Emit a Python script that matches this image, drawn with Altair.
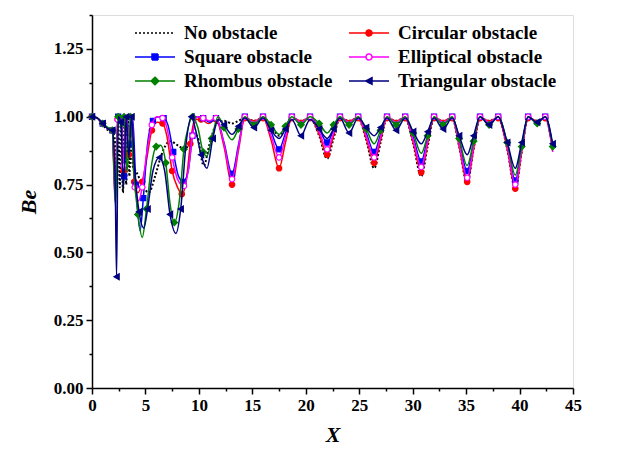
import altair as alt
import pandas as pd

# Series and styling
series_names = ["No obstacle", "Circular obstacle", "Square obstacle",
                "Elliptical obstacle", "Rhombus obstacle", "Triangular obstacle"]
series_colors = ["#000000", "#ff0000", "#0000ff", "#ff00ff", "#008000", "#000080"]

# Shared abscissae of the periodic part of every profile (X >= 12.35)
x_tail = [12.35, 13.1, 13.7, 14.3, 15.15, 16.0,
          16.75, 17.5, 18.1, 18.7, 19.55, 20.4,
          21.25, 22.0, 22.6, 23.2, 24.05, 24.9,
          25.65, 26.4, 27.0, 27.6, 28.45, 29.3,
          30.05, 30.8, 31.4, 32.0, 32.85, 33.7,
          34.35, 35.1, 35.7, 36.3, 37.15, 38.0,
          38.85, 39.6, 40.2, 40.8, 41.65, 42.4,
          43.1]

# No obstacle
x_none = [0, 0.5, 1.0, 1.5, 1.9, 2.1, 2.3, 2.45, 2.6, 2.75, 2.9, 3.05, 3.2, 3.35, 3.5,
          3.65, 3.8, 4.1, 4.6, 5.3, 5.9, 6.5, 7.3, 8.0, 8.7, 9.3, 9.8, 10.45, 11.0, 11.6]
be_none = [1.0, 0.995, 0.97, 0.95, 0.94, 0.93, 0.78, 1.0, 0.74, 1.0, 0.72, 1.0, 0.75, 1.0, 0.78,
           1.0, 0.82, 0.80, 0.76, 0.72, 0.78, 0.86, 0.91, 0.895, 0.88, 0.92, 0.93, 0.82, 0.90, 0.97]
be_none_tail = [0.985, 0.975, 0.985, 0.995, 0.985, 0.995,
                0.97, 0.93, 0.965, 0.995, 0.985, 0.995,
                0.93, 0.845, 0.92, 0.995, 0.985, 0.995,
                0.915, 0.81, 0.905, 0.995, 0.985, 0.995,
                0.90, 0.78, 0.89, 0.995, 0.985, 0.995,
                0.89, 0.755, 0.88, 0.995, 0.985, 0.995,
                0.88, 0.735, 0.87, 0.995, 0.985, 0.995,
                0.88]

# Circular obstacle
x_circ = [0, 0.5, 1.0, 1.5, 1.9, 2.15, 2.4, 2.7, 2.95, 3.2, 3.45, 3.7, 3.95, 4.3, 4.7,
          5.1, 5.6, 6.1, 6.6, 7.0, 7.5, 8.0, 8.4, 8.8, 9.2, 9.6, 10.2, 10.9, 11.6]
be_circ = [1.0, 0.995, 0.975, 0.955, 0.95, 0.72, 0.99, 0.99, 0.80, 1.0, 0.86, 1.0, 0.76, 0.72, 0.76,
           0.84, 0.95, 0.98, 0.975, 0.93, 0.80, 0.74, 0.715, 0.76, 0.90, 0.99, 0.99, 0.975, 0.99]
be_circ_tail = [0.89, 0.75, 0.875, 0.995, 0.985, 0.995,
                0.915, 0.81, 0.905, 0.995, 0.985, 0.995,
                0.935, 0.86, 0.93, 0.995, 0.985, 0.995,
                0.92, 0.83, 0.915, 0.995, 0.985, 0.995,
                0.905, 0.795, 0.90, 0.995, 0.985, 0.995,
                0.89, 0.76, 0.88, 0.995, 0.985, 0.995,
                0.88, 0.735, 0.87, 0.995, 0.985, 0.995,
                0.875]

# Square obstacle
x_sq = [0, 0.5, 1.0, 1.5, 1.9, 2.2, 2.45, 2.75, 3.0, 3.25, 3.55, 3.8, 4.1, 4.5, 4.8,
        5.2, 5.7, 6.2, 6.7, 7.1, 7.6, 8.1, 8.55, 9.0, 9.4, 9.8, 10.4, 11.0, 11.6]
be_sq = [1.0, 0.995, 0.975, 0.955, 0.95, 0.70, 1.0, 0.99, 0.78, 1.0, 0.90, 1.0, 0.75, 0.58, 0.70,
         0.90, 0.985, 1.0, 0.995, 0.97, 0.87, 0.78, 0.76, 0.80, 0.93, 1.0, 0.995, 0.98, 0.995]
be_sq_tail = [0.905, 0.79, 0.895, 1.0, 0.975, 1.0,
              0.945, 0.88, 0.94, 1.0, 0.975, 1.0,
              0.955, 0.905, 0.95, 1.0, 0.975, 1.0,
              0.94, 0.87, 0.935, 1.0, 0.975, 1.0,
              0.925, 0.835, 0.92, 1.0, 0.975, 1.0,
              0.91, 0.80, 0.90, 1.0, 0.975, 1.0,
              0.895, 0.765, 0.885, 1.0, 0.975, 1.0,
              0.885]

# Elliptical obstacle
x_ell = [0, 0.5, 1.0, 1.5, 1.9, 2.15, 2.4, 2.7, 2.95, 3.2, 3.5, 3.75, 4.0, 4.35, 4.7,
         5.1, 5.6, 6.1, 6.6, 7.0, 7.5, 8.0, 8.6, 9.0, 9.4, 9.8, 10.4, 11.0, 11.6]
be_ell = [1.0, 0.995, 0.975, 0.955, 0.95, 0.69, 0.99, 1.0, 0.82, 1.0, 0.92, 1.0, 0.74, 0.69, 0.74,
          0.86, 0.97, 1.0, 0.995, 0.96, 0.85, 0.77, 0.745, 0.80, 0.93, 1.0, 0.995, 0.985, 0.995]
be_ell_tail = [0.90, 0.77, 0.885, 1.0, 0.98, 1.0,
               0.93, 0.85, 0.925, 1.0, 0.98, 1.0,
               0.945, 0.88, 0.94, 1.0, 0.98, 1.0,
               0.93, 0.85, 0.925, 1.0, 0.98, 1.0,
               0.915, 0.815, 0.91, 1.0, 0.98, 1.0,
               0.90, 0.775, 0.89, 1.0, 0.98, 1.0,
               0.89, 0.75, 0.875, 1.0, 0.98, 1.0,
               0.87]

# Rhombus obstacle
x_rho = [0, 0.5, 1.0, 1.5, 1.9, 2.2, 2.45, 2.75, 3.0, 3.3, 3.6, 3.9, 4.3, 4.7, 5.1,
         5.6, 6.0, 6.4, 6.9, 7.3, 7.7, 8.2, 8.6, 9.0, 9.4, 9.9, 10.4, 10.75, 11.2, 11.8]
be_rho = [1.0, 0.995, 0.975, 0.96, 0.95, 0.67, 1.0, 0.96, 1.0, 0.80, 1.0, 0.80, 0.64, 0.555, 0.66,
          0.83, 0.89, 0.895, 0.83, 0.68, 0.61, 0.70, 0.88, 0.96, 1.0, 0.96, 0.87, 0.855, 0.92, 1.0]
be_rho_tail = [0.96, 0.915, 0.955, 1.0, 0.97, 1.0,
               0.97, 0.935, 0.965, 1.0, 0.97, 1.0,
               0.975, 0.94, 0.97, 1.0, 0.97, 1.0,
               0.955, 0.90, 0.95, 1.0, 0.97, 1.0,
               0.94, 0.865, 0.93, 1.0, 0.97, 1.0,
               0.92, 0.82, 0.91, 1.0, 0.97, 1.0,
               0.905, 0.785, 0.89, 1.0, 0.975, 1.0,
               0.89]

# Triangular obstacle
x_tri = [0, 0.5, 1.0, 1.5, 1.9, 2.15, 2.3, 2.45, 2.7, 2.95, 3.2, 3.45, 3.7, 4.0, 4.4,
         4.85, 5.2, 5.7, 6.3, 6.8, 7.3, 7.85, 8.3, 8.8, 9.3, 9.7, 10.2, 10.75, 11.3, 11.8]
be_tri = [1.0, 0.995, 0.975, 0.955, 0.95, 0.80, 0.41, 1.0, 0.98, 0.74, 1.0, 0.85, 1.0, 0.80, 0.65,
          0.59, 0.66, 0.80, 0.85, 0.80, 0.64, 0.57, 0.66, 0.90, 1.0, 0.95, 0.86, 0.81, 0.92, 0.99]
be_tri_tail = [0.97, 0.935, 0.965, 0.995, 0.96, 0.995,
               0.95, 0.92, 0.955, 0.99, 0.93, 0.99,
               0.955, 0.92, 0.955, 0.995, 0.94, 0.995,
               0.96, 0.93, 0.96, 0.995, 0.95, 0.995,
               0.945, 0.90, 0.945, 0.995, 0.955, 0.995,
               0.93, 0.86, 0.93, 1.0, 0.97, 1.0,
               0.905, 0.81, 0.905, 1.0, 0.98, 1.0,
               0.90]

heads = [(x_none, be_none, be_none_tail), (x_circ, be_circ, be_circ_tail),
         (x_sq, be_sq, be_sq_tail), (x_ell, be_ell, be_ell_tail),
         (x_rho, be_rho, be_rho_tail), (x_tri, be_tri, be_tri_tail)]

rows = []
for name, (xh, bh, bt) in zip(series_names, heads):
    xs = list(xh) + x_tail
    bs = list(bh) + bt
    for i, (xv, bv) in enumerate(zip(xs, bs)):
        rows.append({"series": name, "X": xv, "Be": bv, "i": i})
df = pd.DataFrame(rows)

FONT = "Liberation Serif"

x_ticks = [i * 2.5 for i in range(19)]
y_ticks = [i * 0.125 for i in range(12)]

x_enc = alt.X(
    "X:Q",
    scale=alt.Scale(domain=[0, 45], nice=False),
    axis=alt.Axis(
        title="X", values=x_ticks, grid=False,
        labelExpr="datum.value % 5 === 0 ? datum.label : ''",
        tickSize={"condition": {"test": "datum.value % 5 === 0", "value": 6}, "value": 3},
        labelFont=FONT, labelFontSize=17, labelFontWeight="bold", labelColor="black",
        labelPadding=3, labelFlush=False,
        titleFont=FONT, titleFontSize=22, titleFontWeight="bold", titleFontStyle="italic",
        titleColor="black", titlePadding=11,
        domainColor="black", domainWidth=1.5, tickColor="black", tickWidth=1.5,
    ),
)
y_enc = alt.Y(
    "Be:Q",
    scale=alt.Scale(domain=[0, 1.375], nice=False),
    axis=alt.Axis(
        title="Be", values=y_ticks, grid=False,
        labelExpr="datum.value % 0.25 === 0 ? format(datum.value, '.2f') : ''",
        tickSize={"condition": {"test": "datum.value % 0.25 === 0", "value": 6}, "value": 3},
        labelFont=FONT, labelFontSize=17, labelFontWeight="bold", labelColor="black",
        labelPadding=3, labelFlush=False,
        titleFont=FONT, titleFontSize=22, titleFontWeight="bold", titleFontStyle="italic",
        titleColor="black", titlePadding=13,
        domainColor="black", domainWidth=1.5, tickColor="black", tickWidth=1.5,
    ),
)

marker_shapes = [None, "circle", "square", "circle", "diamond", "triangle-left"]
marker_sizes = [0, 30, 26, 30, 42, 36]
marker_fills = [None, "#ff0000", "#0000ff", "#ffffff", "#008000", "#000080"]

layers = []
for name, color, shp, sz, fl in zip(series_names, series_colors, marker_shapes,
                                     marker_sizes, marker_fills):
    sub = df[df["series"] == name]
    line_kw = dict(color=color, strokeWidth=1.5, interpolate="monotone", clip=True)
    if name == "No obstacle":
        line_kw.update(strokeDash=[2, 2], strokeWidth=2)
    layers.append(alt.Chart(sub).mark_line(**line_kw).encode(x=x_enc, y=y_enc, order="i:Q"))
    if shp is not None:
        pts = sub[sub["i"] % 2 == 0]
        layers.append(
            alt.Chart(pts).mark_point(shape=shp, size=sz, filled=True, fill=fl, stroke=color,
                                      strokeWidth=1.2, opacity=1)
            .encode(x=x_enc, y=y_enc)
        )

# Legend glyphs: a short line with the series marker in its middle
legend_paths = [
    "M-2,0H2",
    "M-2,0H-0.3M0.3,0H2M-0.3,0A0.3,0.3,0,1,1,0.3,0A0.3,0.3,0,1,1,-0.3,0Z",
    "M-2,0H-0.3M0.3,0H2M-0.3,-0.3H0.3V0.3H-0.3Z",
    "M-2,0H-0.3M0.3,0H2M-0.3,0A0.3,0.3,0,1,1,0.3,0A0.3,0.3,0,1,1,-0.3,0Z",
    "M-2,0H-0.38M0.38,0H2M-0.38,0L0,-0.38L0.38,0L0,0.38Z",
    "M-2,0H-0.33M0.3,0H2M-0.33,0L0.3,-0.33L0.3,0.33Z",
]
legend_fills = ["transparent", "#ff0000", "#0000ff", "#ffffff", "#008000", "#000080"]
legend_dashes = [[2, 2], [1, 0], [1, 0], [1, 0], [1, 0], [1, 0]]

leg = alt.Legend(
    title=None, orient="none", legendX=52, legendY=7, columns=2, direction="horizontal",
    columnPadding=13, rowPadding=3, padding=0,
    symbolSize=400, symbolStrokeWidth=1.5, symbolOpacity=1,
    labelFont=FONT, labelFontSize=19, labelFontWeight="bold", labelColor="black",
    labelOffset=18, labelLimit=400,
)

legend_layer = (
    alt.Chart(df).transform_filter("false")
    .mark_point(filled=True, opacity=1)
    .encode(
        fill=alt.Fill("series:N", scale=alt.Scale(domain=series_names, range=legend_fills), legend=leg),
        stroke=alt.Stroke("series:N", scale=alt.Scale(domain=series_names, range=series_colors), legend=leg),
        shape=alt.Shape("series:N", scale=alt.Scale(domain=series_names, range=legend_paths), legend=leg),
        strokeDash=alt.StrokeDash("series:N", scale=alt.Scale(domain=series_names, range=legend_dashes), legend=leg),
    )
)

chart = (
    alt.layer(*layers, legend_layer)
    .properties(width=481, height=373,
                autosize=alt.AutoSizeParams(type="none"),
                padding={"left": 92, "top": 15, "right": 47, "bottom": 66})
    .configure_view(stroke="black", strokeWidth=1.5)
    .configure(background="white")
)

chart.save("out.html", embed_options={"renderer": "svg", "actions": False})
